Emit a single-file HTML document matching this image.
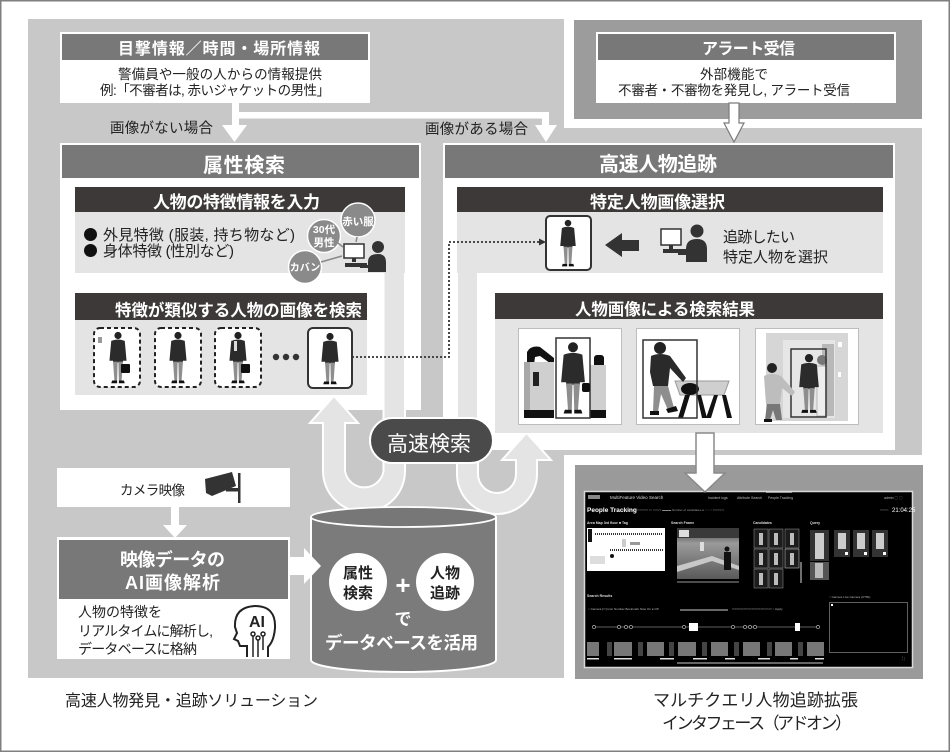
<!DOCTYPE html>
<html><head><meta charset="utf-8">
<style>
html,body{margin:0;padding:0;background:#fff;}
svg{display:block;}
text{font-family:"Liberation Sans","Noto Sans CJK JP",sans-serif;}
.b{font-weight:700}
</style></head><body>
<svg width="950" height="752" viewBox="0 0 950 752" xmlns="http://www.w3.org/2000/svg">
<defs>
<symbol id="man" viewBox="0 0 24 60">
 <circle cx="12" cy="5" r="4" fill="#222"/>
 <path d="M4.5 11 Q12 8 19.5 11 L21.5 33 H17.5 V35 H6.5 V33 H2.5 Z" fill="#2b2b2b"/>
 <path d="M6.5 34 H11.6 L11 55 H8 Z M12.4 34 H17.5 L16 55 H13 Z" fill="#8e8e8e"/>
 <path d="M5.5 55 H11 V58 H4.5 Z M13 55 H18.5 L19.5 58 H13 Z" fill="#111"/>
</symbol>
<linearGradient id="sf" x1="0" y1="0" x2="0" y2="1">
 <stop offset="0" stop-color="#3a3a3a"/><stop offset="0.3" stop-color="#9a9a9a"/><stop offset="1" stop-color="#5a5a5a"/>
</linearGradient>
</defs>

<rect x="0.75" y="0.75" width="948.5" height="750.5" fill="#fff" stroke="#7f7f7f" stroke-width="1.5"/>
<path d="M28 19H564V128H922V455H564V678H28Z" fill="#c8c8c8"/>
<rect x="574" y="20" width="348" height="99" fill="#9c9c9c"/>

<!-- top left box -->
<rect x="60" y="32" width="310" height="71" fill="#fff"/>
<rect x="62" y="34" width="306" height="26" fill="#787878"/>
<text x="118" y="54" font-size="16" class="b" fill="#fff" textLength="202">目撃情報／時間・場所情報</text>
<text x="118" y="79" font-size="13.5" fill="#222" textLength="204">警備員や一般の人からの情報提供</text>
<text x="100" y="95" font-size="13.5" fill="#222" textLength="230">例:「不審者は, 赤いジャケットの男性」</text>

<!-- alert box -->
<rect x="596" y="32" width="300" height="71" fill="#fff"/>
<rect x="598" y="34" width="296" height="26" fill="#787878"/>
<text x="702" y="54" font-size="16" class="b" fill="#fff" textLength="93">アラート受信</text>
<text x="700" y="79" font-size="13.5" fill="#222" textLength="68">外部機能で</text>
<text x="618" y="95" font-size="13.5" fill="#222" textLength="232">不審者・不審物を発見し, アラート受信</text>

<!-- top arrows -->
<rect x="232" y="103" width="7" height="23" fill="#fff"/>
<rect x="232" y="112" width="317" height="6.5" fill="#fff"/>
<rect x="542" y="112" width="7" height="14" fill="#fff"/>
<polygon points="222,125 247,125 234.5,142" fill="#fff"/>
<polygon points="535,125 557,125 546,142" fill="#fff"/>
<path d="M729 103V123H724L734 142L744 123H739V103Z" fill="#fff" stroke="#7a7a7a" stroke-width="1.2"/>
<text x="110" y="133" font-size="14.5" fill="#222" textLength="103">画像がない場合</text>
<text x="425" y="134" font-size="14.5" fill="#222" textLength="103">画像がある場合</text>

<!-- panels -->
<rect x="60" y="143" width="361" height="267" fill="#fff"/>
<rect x="443" y="143" width="452" height="307" fill="#fff"/>

<!-- U arrows -->
<path d="M323 423H310L334 396L358 423H345V471A19.5 19.5 0 0 0 383.5 471V260H405V471A41 41 0 0 1 323 471Z" fill="#e4e4e4" stroke="#fff" stroke-width="2"/>
<path d="M457 260V474A40 40 0 0 0 537 474V460H551L526.5 433L502 460H516V474A19 19 0 0 1 478 474V260Z" fill="#e4e4e4" stroke="#fff" stroke-width="2"/>

<!-- left panel contents -->
<rect x="62" y="145" width="357" height="33" fill="#787878"/>
<text x="203" y="172" font-size="20" class="b" fill="#fff" textLength="82">属性検索</text>
<rect x="75" y="187" width="330" height="25" fill="#3d3939"/>
<text x="153" y="208" font-size="17" class="b" fill="#fff" textLength="167">人物の特徴情報を入力</text>
<rect x="75" y="212" width="330" height="61" fill="#e4e4e4"/>
<circle cx="90.5" cy="234.5" r="6.5" fill="#111"/>
<circle cx="90.5" cy="250.5" r="6.5" fill="#111"/>
<text x="103" y="240" font-size="15" fill="#222" textLength="192">外見特徴 (服装, 持ち物など)</text>
<text x="103" y="256" font-size="15" fill="#222" textLength="131">身体特徴 (性別など)</text>

<!-- circles & computer person -->
<circle cx="358" cy="220" r="17" fill="#8a8a8a" stroke="#fff" stroke-width="1.5"/>
<text x="358" y="225" font-size="10.5" class="b" fill="#fff" text-anchor="middle">赤い服</text>
<circle cx="324" cy="236" r="16.5" fill="#8a8a8a" stroke="#fff" stroke-width="1.5"/>
<text x="324" y="233" font-size="10.5" class="b" fill="#fff" text-anchor="middle">30代</text>
<text x="324" y="246" font-size="10.5" class="b" fill="#fff" text-anchor="middle">男性</text>
<circle cx="305" cy="267" r="16.5" fill="#8a8a8a" stroke="#fff" stroke-width="1.5"/>
<text x="305" y="271" font-size="10" class="b" fill="#fff" text-anchor="middle">カバン</text>
<line x1="321" y1="262" x2="342" y2="256" stroke="#8a8a8a" stroke-width="1.5"/>
<line x1="338" y1="243" x2="343" y2="247" stroke="#8a8a8a" stroke-width="1.5"/>
<line x1="357" y1="237" x2="356" y2="242" stroke="#8a8a8a" stroke-width="1.5"/>
<rect x="344" y="244" width="20" height="14" fill="#fff" stroke="#333" stroke-width="1.5"/>
<rect x="352" y="258" width="4" height="4" fill="#333"/>
<rect x="345" y="263" width="22" height="4" fill="#333"/>
<circle cx="378" cy="247" r="6" fill="#333"/>
<path d="M368 272V262Q368 254 378 254Q386 254 386 262V272Z" fill="#333"/>
<path d="M360 265H372V268H360Z" fill="#333"/>

<rect x="75" y="293" width="292" height="27" fill="#3d3939"/>
<text x="115" y="316" font-size="16.5" class="b" fill="#fff" textLength="247">特徴が類似する人物の画像を検索</text>
<rect x="75" y="320" width="292" height="75" fill="#e4e4e4"/>
<g fill="#fff" stroke="#222" stroke-width="2" stroke-dasharray="4 3">
<rect x="94" y="328" width="46" height="59" rx="6"/>
<rect x="155" y="328" width="46" height="59" rx="6"/>
<rect x="215" y="328" width="46" height="59" rx="6"/>
</g>
<rect x="308" y="328" width="44" height="60" rx="5" fill="#fff" stroke="#333" stroke-width="2"/>
<use href="#man" x="106" y="331" width="24" height="54"/>
<rect x="121" y="364" width="9" height="9" rx="1" fill="#111"/>
<rect x="98" y="337" width="4" height="6" fill="#999"/>
<use href="#man" x="166" y="331" width="24" height="54"/>
<use href="#man" x="226" y="331" width="24" height="54"/>
<rect x="241" y="364" width="9" height="9" rx="1" fill="#111"/>
<rect x="234" y="341" width="3" height="10" fill="#ddd"/>
<use href="#man" x="318" y="332" width="24" height="54"/>
<circle cx="276" cy="357" r="3.2" fill="#333"/>
<circle cx="286" cy="357" r="3.2" fill="#333"/>
<circle cx="296" cy="357" r="3.2" fill="#333"/>

<!-- right panel contents -->
<rect x="445" y="145" width="448" height="33" fill="#787878"/>
<text x="599" y="171" font-size="20" class="b" fill="#fff" textLength="118">高速人物追跡</text>
<rect x="457" y="187" width="426" height="25" fill="#3d3939"/>
<text x="590" y="208" font-size="17" class="b" fill="#fff" textLength="135">特定人物画像選択</text>
<rect x="457" y="212" width="426" height="61" fill="#e4e4e4"/>
<rect x="546" y="216" width="45" height="54" rx="4" fill="#fff" stroke="#333" stroke-width="2"/>
<use href="#man" x="557" y="219" width="22" height="49"/>
<polygon points="605,245 622,233 622,240 639,240 639,251 622,251 622,257" fill="#333"/>
<rect x="661" y="229" width="20" height="16" fill="#fff" stroke="#333" stroke-width="1.5"/>
<rect x="669" y="245" width="4" height="4" fill="#333"/>
<rect x="663" y="249" width="24" height="4" fill="#333"/>
<circle cx="697" cy="231" r="6.5" fill="#333"/>
<path d="M686 262V249Q686 239 697 239Q707 239 707 249V262Z" fill="#333"/>
<rect x="678" y="252" width="12" height="3" fill="#333"/>
<text x="723" y="242" font-size="15" fill="#222" textLength="72">追跡したい</text>
<text x="723" y="262" font-size="15" fill="#222" textLength="105">特定人物を選択</text>

<rect x="495" y="293" width="388" height="26" fill="#3d3939"/>
<text x="575" y="315" font-size="16.5" class="b" fill="#fff" textLength="180">人物画像による検索結果</text>
<rect x="495" y="319" width="388" height="114" fill="#e4e4e4"/>

<!-- result frame 1 -->
<rect x="518.5" y="328.5" width="103" height="96" fill="#fff" stroke="#bdbdbd"/>
<path d="M527 372 V352 Q531 345 540 347 L554 358 L554 366 L540 356 L535 357 L533 372 Z" fill="#111"/>
<rect x="524" y="362" width="30" height="48" fill="#cfcfcf"/>
<rect x="524" y="362" width="6" height="48" fill="#a8a8a8"/>
<rect x="533" y="372" width="6" height="14" fill="#222"/>
<rect x="524" y="410" width="30" height="8" fill="#111"/>
<rect x="594" y="355" width="10" height="14" rx="3" fill="#111"/>
<rect x="590" y="365" width="16" height="45" fill="#cfcfcf"/>
<rect x="590" y="410" width="16" height="8" fill="#111"/>
<use href="#man" x="558" y="341" width="30" height="75"/>
<rect x="556" y="338" width="34" height="80" fill="none" stroke="#333" stroke-width="1.5"/>
<rect x="582" y="383" width="8" height="9" rx="2" fill="#111"/>

<!-- result frame 2 -->
<rect x="636.5" y="328.5" width="103" height="96" fill="#fff" stroke="#bdbdbd"/>
<polygon points="675,381 729,381 724,395 680,395" fill="#cfcfcf" stroke="#999"/>
<polygon points="685,395 690,395 683,418 678,418" fill="#111"/>
<polygon points="697,395 701,395 707,418 702,418" fill="#111"/>
<polygon points="714,395 718,395 711,418 706,418" fill="#111"/>
<polygon points="722,395 726,395 732,418 727,418" fill="#111"/>
<circle cx="660" cy="348" r="6" fill="#222"/>
<path d="M651 356 Q660 352 670 356 L686 378 L683 382 L670 368 L668 386 H653 L650 372 Z" fill="#2a2a2a"/>
<path d="M654 386 H668 L674 408 L668 410 L661 394 L658 412 H653 Z" fill="#8e8e8e"/>
<rect x="650" y="411" width="9" height="4" fill="#111"/>
<polygon points="666,409 676,406 678,411 668,413" fill="#111"/>
<ellipse cx="690" cy="389" rx="9" ry="6" fill="#111"/>
<rect x="643" y="340" width="54" height="78" fill="none" stroke="#333" stroke-width="1.5"/>

<!-- result frame 3 -->
<rect x="755.5" y="328.5" width="103" height="96" fill="#fff" stroke="#bdbdbd"/>
<rect x="766" y="333" width="82" height="88" fill="#d6d6d6"/>
<rect x="783" y="340" width="52" height="78" fill="#e6e6e6"/>
<rect x="822" y="344" width="12" height="72" fill="#b8b8b8"/>
<rect x="838" y="342" width="4" height="5" fill="#fff"/>
<rect x="838" y="372" width="3" height="5" fill="#fff"/>
<circle cx="822" cy="360" r="5" fill="#777"/>
<rect x="817" y="366" width="10" height="50" fill="#eee" stroke="#aaa" stroke-width="0.8"/>
<use href="#man" x="795" y="353" width="28" height="62"/>
<rect x="791" y="349" width="35" height="68" fill="none" stroke="#333" stroke-width="1.5"/>
<circle cx="772" cy="368" r="5" fill="#222"/>
<path d="M764 376 Q772 372 781 376 L795 392 L792 396 L782 388 L780 404 H766 Z" fill="#bdbdbd"/>
<path d="M767 404 H780 L782 420 H776 L773 410 L770 420 H765 Z" fill="#777"/>
<rect x="764" y="419" width="8" height="3" fill="#111"/>

<!-- dotted connector -->
<path d="M352 357H449V242H539" fill="none" stroke="#333" stroke-width="1.8" stroke-dasharray="2 2"/>
<polygon points="539,238.5 546,242 539,245.5" fill="#333"/>

<!-- pill -->
<rect x="370" y="418" width="123" height="45" rx="22.5" fill="#4a4a4a" stroke="#fff" stroke-width="2"/>
<text x="387" y="451" font-size="21" fill="#fff" textLength="84">高速検索</text>

<!-- cylinder -->
<path d="M311 517V660A92.5 12 0 0 0 496 660V517Z" fill="#7b7b7b" stroke="#fff" stroke-width="2"/>
<ellipse cx="403.5" cy="517" rx="92.5" ry="10" fill="#777" stroke="#fff" stroke-width="1.8"/>
<circle cx="358" cy="582" r="29" fill="#fff"/>
<circle cx="445" cy="582" r="29" fill="#fff"/>
<text x="358" y="578" font-size="15" class="b" fill="#222" text-anchor="middle">属性</text>
<text x="358" y="598" font-size="15" class="b" fill="#222" text-anchor="middle">検索</text>
<text x="445" y="578" font-size="15" class="b" fill="#222" text-anchor="middle">人物</text>
<text x="445" y="598" font-size="15" class="b" fill="#222" text-anchor="middle">追跡</text>
<text x="403" y="594" font-size="26" class="b" fill="#fff" text-anchor="middle">+</text>
<text x="403" y="625" font-size="17" class="b" fill="#fff" text-anchor="middle">で</text>
<text x="325" y="649" font-size="17.5" class="b" fill="#fff" textLength="153">データベースを活用</text>

<!-- camera box -->
<rect x="57" y="468" width="233" height="39" fill="#fff"/>
<text x="120" y="495" font-size="13.5" fill="#222" textLength="65">カメラ映像</text>
<polygon points="205,479 232,472 236,486 212,496 206,493" fill="#333"/>
<rect x="226" y="488" width="13" height="3.5" fill="#333"/>
<rect x="238" y="473" width="2.5" height="30" fill="#333"/>
<rect x="171" y="507" width="8" height="19" fill="#fff"/>
<polygon points="163,525 187,525 175,538" fill="#fff"/>

<!-- AI box -->
<rect x="57" y="537" width="233" height="122" fill="#fff"/>
<rect x="59" y="540" width="229" height="59" fill="#787878"/>
<text x="120" y="566" font-size="18" class="b" fill="#fff" textLength="105">映像データの</text>
<text x="125" y="589" font-size="18" class="b" fill="#fff" textLength="95">AI画像解析</text>
<text x="78" y="617" font-size="14" fill="#222" textLength="84">人物の特徴を</text>
<text x="78" y="636" font-size="14" fill="#222" textLength="135">リアルタイムに解析し,</text>
<text x="78" y="654" font-size="14" fill="#222" textLength="119">データベースに格納</text>
<path d="M247 657V646H240L238 641L234 639L237 633L235 627Q234 607 255 606Q276 606 275 628Q274 641 268 647V657" fill="none" stroke="#222" stroke-width="2"/>
<text x="257" y="627" font-size="16" class="b" fill="#222" text-anchor="middle">AI</text>
<g stroke="#222" stroke-width="1.5" fill="none">
<path d="M253 636V657M258 640V657M263 636V650"/>
<circle cx="253" cy="634" r="2"/><circle cx="258" cy="638" r="2"/><circle cx="263" cy="634" r="2"/>
</g>
<path d="M290 557H304V548L321 566L304 584V575H290Z" fill="#fff"/>

<!-- screen -->
<rect x="575" y="465" width="348" height="214" fill="#9a9a9a"/>
<rect x="584.5" y="491.5" width="328" height="176" fill="#000" stroke="#d8d8d8" stroke-width="1.5"/>
<g fill="#ccc">
<rect x="588" y="495" width="12" height="4" fill="#888"/>
<text x="610" y="499" font-size="4.5" fill="#ddd">MultiFeature Video Search</text>
<text x="708" y="499" font-size="3.5" fill="#bbb">Incident logs</text>
<text x="737" y="499" font-size="3.5" fill="#bbb">Attribute Search</text>
<text x="768" y="499" font-size="3.5" fill="#bbb">People Tracking</text>
<rect x="766" y="492" width="26" height="1" fill="#999"/>
<text x="884" y="499" font-size="3.5" fill="#bbb">admin  ◯  ◯</text>
<text x="587" y="512" font-size="6.5" class="b" fill="#fff">People Tracking</text>
<text x="620" y="511" font-size="3" fill="#999">○ Camera   ▭▭▭▭▭   ▭   ▭▭▭   ▬▬▬   Number of candidates ● ○ ○ ○ ▭▭▭▭</text>
<text x="880" y="511" font-size="3" fill="#999">▭▭▭</text>
<text x="892" y="512" font-size="6" fill="#fff">21:04:25</text>
<text x="587" y="524" font-size="3.5" class="b" fill="#ddd">Area Map        3rd floor    ■ Tag</text>
<text x="671" y="524" font-size="3.5" class="b" fill="#ddd">Search Frame</text>
<text x="753" y="524" font-size="3.5" class="b" fill="#ddd">Candidates</text>
<text x="810" y="524" font-size="3.5" class="b" fill="#ddd">Query</text>
</g>
<rect x="587" y="528" width="78" height="43" fill="#fff"/>
<rect x="588" y="529" width="4" height="13" fill="#111"/>
<line x1="595" y1="534" x2="663" y2="534" stroke="#333" stroke-width="2" stroke-dasharray="1 1"/>
<line x1="610" y1="550" x2="663" y2="550" stroke="#333" stroke-width="2" stroke-dasharray="1 1"/>
<rect x="590" y="556" width="15" height="8" fill="#ddd"/>
<rect x="622" y="539" width="4" height="8" fill="#ccc"/>
<rect x="630" y="542" width="10" height="3" fill="#999"/>
<circle cx="612" cy="556" r="2" fill="#111"/>
<rect x="677" y="528" width="62" height="51" fill="url(#sf)"/>
<rect x="677" y="528" width="62" height="10" fill="#3a3a3a"/>
<rect x="679" y="530" width="10" height="7" fill="#ddd"/>
<polygon points="677,566 712,556 739,566 739,570 712,561 677,572" fill="#c8c8c8"/>
<rect x="724" y="552" width="7" height="18" fill="#111"/>
<circle cx="727" cy="549" r="2.5" fill="#111"/>
<rect x="700" y="542" width="4" height="9" fill="#ddd"/>
<line x1="677" y1="582" x2="739" y2="582" stroke="#999" stroke-width="1"/>
<g fill="#1c1c1c" stroke="#999" stroke-width="0.5">
<rect x="754" y="529" width="14" height="19"/><rect x="769" y="529" width="14" height="19"/><rect x="785" y="529" width="14" height="19"/>
<rect x="754" y="549" width="14" height="19"/><rect x="769" y="549" width="14" height="19"/><rect x="785" y="549" width="14" height="19" stroke="#ddd"/>
<rect x="754" y="569" width="14" height="19"/><rect x="769" y="569" width="14" height="19"/>
</g>
<g fill="#bbb">
<rect x="759" y="533" width="4" height="12"/><rect x="774" y="533" width="4" height="12"/><rect x="790" y="533" width="4" height="12"/>
<rect x="759" y="553" width="4" height="12"/><rect x="774" y="553" width="4" height="12"/><rect x="790" y="553" width="4" height="12"/>
<rect x="759" y="573" width="4" height="12"/><rect x="774" y="573" width="4" height="12"/>
</g>
<line x1="801" y1="562" x2="801" y2="583" stroke="#ddd" stroke-width="1"/>
<rect x="810" y="530" width="19" height="31" fill="#333"/>
<rect x="815" y="533" width="9" height="26" fill="#ccc"/>
<rect x="810" y="562" width="19" height="18" fill="#555"/>
<rect x="815" y="563" width="8" height="15" fill="#bbb"/>
<g fill="#333"><rect x="834" y="530" width="16" height="27"/><rect x="853" y="530" width="16" height="27"/><rect x="872" y="530" width="16" height="27"/></g>
<g fill="#ccc"><rect x="838" y="533" width="8" height="16"/><rect x="857" y="533" width="8" height="16"/><rect x="876" y="533" width="8" height="16"/></g>
<g fill="#fff"><rect x="845" y="552" width="3" height="3"/><rect x="864" y="552" width="3" height="3"/><rect x="883" y="552" width="3" height="3"/></g>
<text x="587" y="597" font-size="3.5" class="b" fill="#ddd">Search Results</text>
<text x="829" y="598" font-size="3" fill="#bbb">○ Camera   Live Camera (CT5b)</text>
<text x="588" y="610" font-size="3" fill="#bbb">○ Camera  [▭] Icon  Number  Bookmark  Note  On ● Off</text>
<line x1="680" y1="610" x2="728" y2="610" stroke="#ccc" stroke-width="1"/>
<text x="732" y="610" font-size="3" fill="#bbb">▭▭▭▭▭▭▭▭▭▭▭▭▭▭   ○  Apply</text>
<line x1="593" y1="627" x2="818" y2="627" stroke="#bbb" stroke-width="0.6"/>
<g fill="#000" stroke="#ccc" stroke-width="0.6">
<circle cx="594" cy="627" r="1.6"/><circle cx="619" cy="627" r="1.6"/><circle cx="626" cy="627" r="1.6"/><circle cx="631" cy="627" r="1.6"/><circle cx="684" cy="627" r="1.6"/><circle cx="733" cy="627" r="1.6"/><circle cx="745" cy="627" r="1.6"/><circle cx="750" cy="627" r="1.6"/><circle cx="755" cy="627" r="1.6"/><circle cx="818" cy="627" r="1.6"/>
</g>
<rect x="689" y="623" width="9" height="8" fill="#fff"/>
<rect x="795" y="623" width="5" height="8" fill="#fff"/>
<g fill="#777">
<rect x="587" y="642" width="12" height="14"/><rect x="614" y="642" width="18" height="14"/><rect x="647" y="642" width="17" height="14"/><rect x="678" y="642" width="18" height="14"/><rect x="711" y="642" width="17" height="14"/><rect x="743" y="642" width="17" height="14"/><rect x="775" y="642" width="17" height="14"/><rect x="807" y="642" width="17" height="14"/>
</g>
<g fill="#444">
<rect x="607" y="642" width="5" height="14"/><rect x="638" y="642" width="5" height="14"/><rect x="669" y="642" width="5" height="14"/><rect x="702" y="642" width="5" height="14"/><rect x="734" y="642" width="5" height="14"/><rect x="767" y="642" width="5" height="14"/><rect x="798" y="642" width="5" height="14"/>
</g>
<g fill="#ddd">
<rect x="587" y="658" width="12" height="1.5"/><rect x="614" y="658" width="18" height="1.5"/><rect x="660" y="658" width="14" height="1.5"/><rect x="693" y="658" width="14" height="1.5"/><rect x="725" y="658" width="10" height="1.5"/><rect x="758" y="658" width="12" height="1.5"/><rect x="790" y="658" width="8" height="1.5"/><rect x="815" y="658" width="9" height="1.5"/>
</g>
<rect x="829.5" y="602.5" width="78" height="50" fill="#000" stroke="#777" stroke-width="0.8"/>
<rect x="831" y="604" width="2" height="2" fill="#fff"/>
<line x1="677" y1="663" x2="823" y2="663" stroke="#888" stroke-width="1.5"/>
<text x="902" y="660" font-size="4" fill="#bbb">⛶</text>

<!-- arrow to screen -->
<path d="M696 433V473H685L705 492L725 473H714V433Z" fill="#fff" stroke="#8a8a8a" stroke-width="1.5"/>

<!-- captions -->
<text x="65" y="706" font-size="16" fill="#222" textLength="253">高速人物発見・追跡ソリューション</text>
<text x="653" y="706" font-size="17" fill="#222" textLength="205">マルチクエリ人物追跡拡張</text>
<text x="662" y="729" font-size="17" fill="#222" textLength="190">インタフェース（アドオン）</text>
</svg>
</body></html>
